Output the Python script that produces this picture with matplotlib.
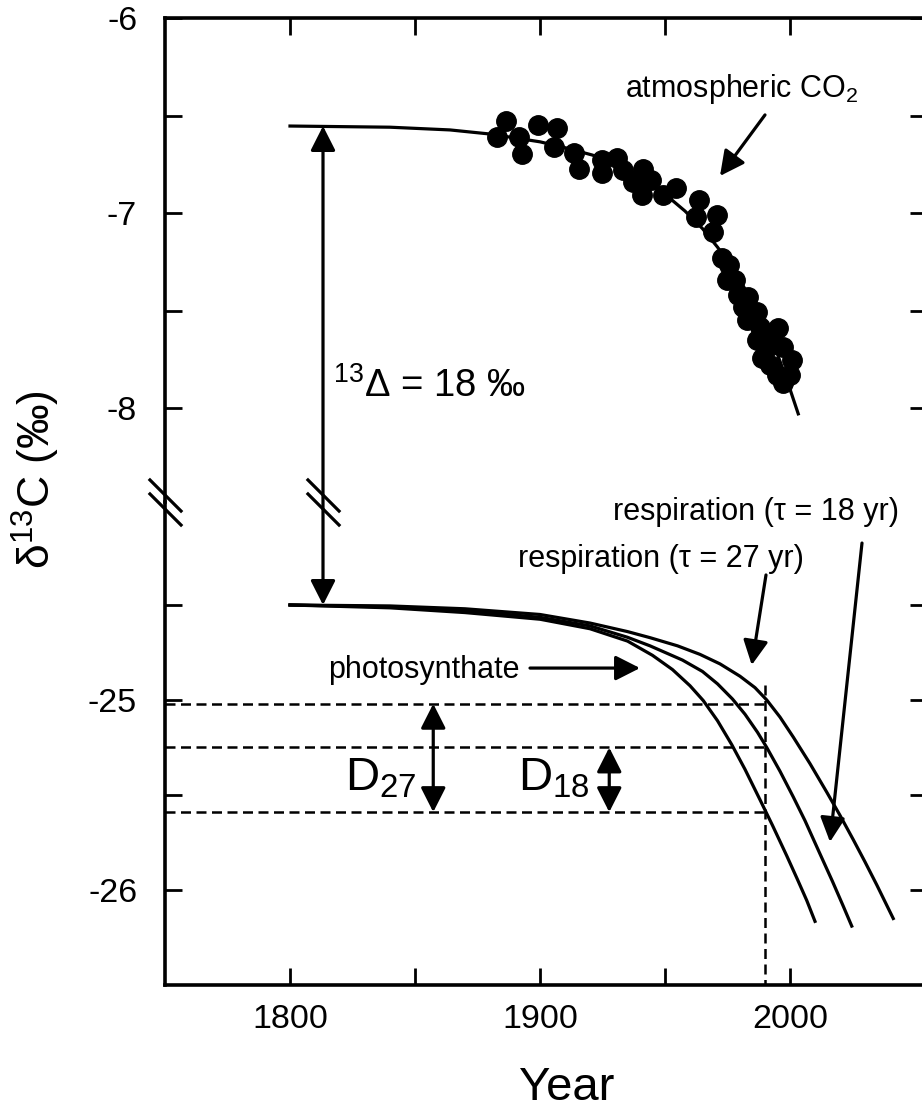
import matplotlib
matplotlib.use('Agg')
import matplotlib.pyplot as plt
import matplotlib.transforms as mtransforms
import numpy as np

plt.rcParams['font.family'] = ['Liberation Sans', 'DejaVu Sans']
plt.rcParams['mathtext.fontset'] = 'custom'
plt.rcParams['mathtext.rm'] = 'Liberation Sans'
plt.rcParams['mathtext.it'] = 'Liberation Sans:italic'
plt.rcParams['mathtext.bf'] = 'Liberation Sans:bold'

# atmospheric CO2 measurements (ice core / firn / air)
obs_year = [1882.7, 1886.4, 1891.7, 1892.7, 1899.3, 1905.6, 1906.7, 1913.6, 1915.6,
            1924.7, 1924.7, 1930.7, 1933.3, 1937.0, 1940.7, 1941.3, 1944.4, 1949.3,
            1954.4, 1962.4, 1963.7, 1969.3, 1970.7, 1972.7, 1974.7, 1975.7, 1978.0,
            1979.3, 1981.3, 1982.7, 1983.3, 1986.7, 1986.7, 1988.0, 1988.7, 1991.3,
            1992.0, 1992.0, 1994.7, 1995.3, 1997.3, 1997.3, 2000.0, 2000.7]
obs_d13c = [-6.612, -6.528, -6.609, -6.697, -6.549, -6.660, -6.566, -6.694, -6.774,
            -6.728, -6.797, -6.720, -6.780, -6.840, -6.908, -6.774, -6.830, -6.908,
            -6.874, -7.019, -6.933, -7.096, -7.010, -7.232, -7.344, -7.267, -7.344,
            -7.420, -7.480, -7.549, -7.429, -7.506, -7.651, -7.583, -7.745, -7.685,
            -7.651, -7.780, -7.831, -7.591, -7.685, -7.873, -7.831, -7.754]

# fitted atmospheric curve
atm_year = [1800, 1840, 1864, 1880, 1900, 1910, 1921, 1930, 1936, 1944, 1952, 1958,
            1965, 1971, 1976, 1980, 1984, 1988, 1991, 1995, 1999, 2003.3]
atm_d13c = [-6.554, -6.56, -6.574, -6.595, -6.635, -6.665, -6.703, -6.75, -6.78, -6.848,
            -6.925, -6.99, -7.08, -7.175, -7.265, -7.345, -7.435, -7.53, -7.61, -7.725,
            -7.865, -8.03]

# photosynthate and respired CO2
photo_year = [1800, 1840, 1870, 1900, 1920, 1935, 1945, 1953, 1960, 1965.3, 1971, 1976.7,
              1982, 1988, 1993, 1998.7, 2003, 2006.7, 2010]
photo_d13c = [-24.5, -24.515, -24.54, -24.575, -24.625, -24.69, -24.765, -24.84, -24.925,
              -25.003, -25.109, -25.235, -25.365, -25.525, -25.66, -25.82, -25.945,
              -26.055, -26.165]
resp18_year = [1800, 1840, 1870, 1900, 1920, 1935, 1944, 1957, 1965, 1971, 1977, 1982,
               1987, 1990.7, 1996, 2001.3, 2006, 2012, 2017, 2021.3, 2024.7]
resp18_d13c = [-24.5, -24.51, -24.53, -24.565, -24.61, -24.67, -24.715, -24.79, -24.85,
               -24.915, -24.995, -25.075, -25.17, -25.25, -25.375, -25.51, -25.635, -25.81,
               -25.955, -26.085, -26.19]
resp27_year = [1800, 1840, 1870, 1900, 1920, 1935, 1944, 1955, 1964, 1972, 1980, 1986,
               1990.7, 1996, 2001.3, 2008, 2014.7, 2020, 2025.3, 2030, 2034.7, 2041.3]
resp27_d13c = [-24.5, -24.505, -24.52, -24.55, -24.595, -24.64, -24.672, -24.715, -24.76,
               -24.81, -24.875, -24.935, -25.0, -25.09, -25.195, -25.335, -25.485, -25.607,
               -25.735, -25.852, -25.973, -26.15]

ref_year = 1990
d_levels = [-25.02, -25.25, -25.59]   # resp27, resp18, photosynthate at ref_year
start_atm = -6.554
start_photo = -24.5

W, H = 922, 1111
fig = plt.figure(figsize=(W / 100, H / 100), dpi=100)
left, right = 165 / W, 927 / W
ax_top = fig.add_axes([left, 1 - 502 / H, right - left, (502 - 18) / H])
ax_bot = fig.add_axes([left, 1 - 985 / H, right - left, (985 - 502) / H])

lw_sp = 2.6
for ax in (ax_top, ax_bot):
    ax.set_xlim(1750, 2054.8)
    ax.patch.set_visible(False)
    for s in ax.spines.values():
        s.set_linewidth(lw_sp)
    ax.tick_params(direction='in', length=12, width=2, labelsize=24.5,
                   left=True, right=True, labelright=False)
    ax.set_xticks([1800, 1850, 1900, 1950, 2000])

ax_top.set_ylim(-8.482, -6)
ax_bot.set_ylim(-26.5, -23.958)
ax_top.spines['bottom'].set_visible(False)
ax_bot.spines['top'].set_visible(False)
ax_top.tick_params(axis='x', top=True, bottom=False, labelbottom=False)
ax_bot.tick_params(axis='x', top=False, bottom=True, pad=14)
ax_top.tick_params(axis='y', pad=20)
ax_bot.tick_params(axis='y', pad=20)
ax_top.set_yticks([-6, -6.5, -7, -7.5, -8])
ax_top.set_yticklabels(['-6', '', '-7', '', '-8'])
ax_bot.set_yticks([-24.5, -25, -25.5, -26])
ax_bot.set_yticklabels(['', '-25', '', '-26'])
ax_bot.set_xticklabels(['1800', '', '1900', '', '2000'])

lw = 2.3
ax_top.plot(atm_year, atm_d13c, color='k', lw=lw, solid_joinstyle='round')
ax_top.plot(obs_year, obs_d13c, 'o', color='k', ms=14)
for yrs, vals in ((photo_year, photo_d13c), (resp18_year, resp18_d13c),
                  (resp27_year, resp27_d13c)):
    ax_bot.plot(yrs, vals, color='k', lw=lw, solid_joinstyle='round')

# dashed reference lines
for lev in d_levels:
    ax_bot.plot([1750, ref_year], [lev, lev], color='k', lw=1.8, dashes=(4, 2.2))
ax_bot.plot([ref_year, ref_year], [-24.92, -26.5], color='k', lw=1.8, dashes=(4, 2.2))

head = dict(color='k', lw=2.3, shrinkA=0, shrinkB=0, mutation_scale=20)
one = dict(arrowstyle='-|>,head_length=0.75,head_width=0.38', **head)
two = dict(arrowstyle='<|-|>,head_length=0.75,head_width=0.38', **head)

# 13Delta arrow spanning the axis break
x_delta = 1813.2
ax_bot.annotate('', xy=(x_delta, start_photo), xycoords=ax_bot.transData,
                xytext=(x_delta, start_atm), textcoords=ax_top.transData,
                arrowprops=two)
ax_top.text(1817.2, -7.942, r'$\mathregular{^{13}\Delta}$ = 18 ‰', fontsize=27.5,
            ha='left', va='baseline')

# D27 / D18
ax_bot.annotate('', xy=(1857.3, d_levels[2]), xytext=(1857.3, d_levels[0]), arrowprops=two)
ax_bot.annotate('', xy=(1927.7, d_levels[2]), xytext=(1927.7, d_levels[1]), arrowprops=two)
ax_bot.text(1822, -25.474, r'$\mathregular{D_{27}}$', fontsize=34, ha='left', va='baseline')
ax_bot.text(1891.2, -25.474, r'$\mathregular{D_{18}}$', fontsize=34, ha='left', va='baseline')

# labels with arrows
ax_top.text(1934, -6.405, 'atmospheric CO$_2$', fontsize=22, ha='left', va='baseline')
ax_top.annotate('', xy=(1972, -6.81), xytext=(1990, -6.497), arrowprops=one)

ax_bot.text(1929.2, -24.053, 'respiration (τ = 18 yr)', fontsize=22, ha='left', va='baseline')
ax_bot.annotate('', xy=(2016, -25.747), xytext=(2028.8, -24.174), arrowprops=one)
ax_bot.text(1891.2, -24.3, 'respiration (τ = 27 yr)', fontsize=22, ha='left', va='baseline')
ax_bot.annotate('', xy=(1984.7, -24.816), xytext=(1990.4, -24.342), arrowprops=one)
ax_bot.text(1892, -24.884, 'photosynthate', fontsize=22, ha='right', va='baseline')
ax_bot.annotate('', xy=(1940, -24.832), xytext=(1896, -24.832), arrowprops=one)

# axis break marks
slash = [(-1, 1), (1, -1)]
for xpos, xform in ((0, ax_bot.transAxes), (x_delta, ax_bot.transData)):
    base = mtransforms.blended_transform_factory(xform, ax_bot.transAxes)
    for dy in (5.3, -5.3):
        tr = base + mtransforms.ScaledTranslation(0, dy / 72, fig.dpi_scale_trans)
        ax_bot.plot([xpos], [1.0], marker=slash, ms=24, mew=2.3, mec='k',
                    transform=tr, clip_on=False)

fig.text(36 / W, 1 - 480 / H, r'$\mathregular{\delta^{13}C}$ (‰)', fontsize=32,
         rotation=90, ha='center', va='center')
fig.text(567 / W, 1 - 1088 / H, 'Year', fontsize=34, ha='center', va='center')

fig.savefig('out.png', dpi=100)
